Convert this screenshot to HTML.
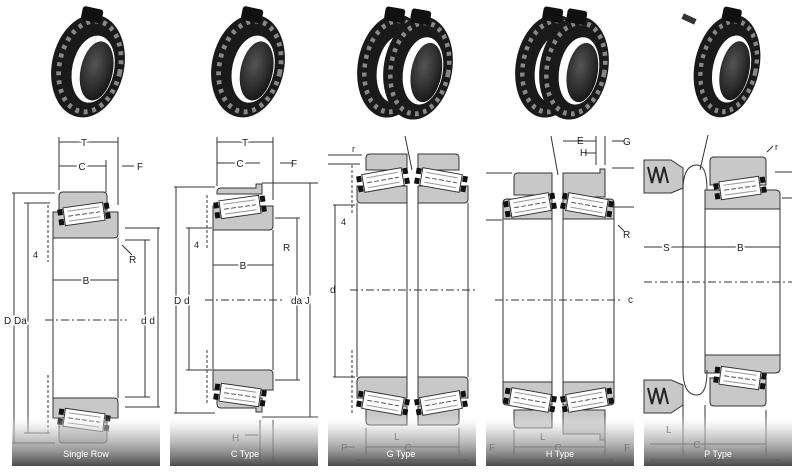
<!DOCTYPE html>
<html><head><meta charset="utf-8"><style>
html,body{margin:0;padding:0;background:#fff;}
svg{display:block;font-family:"Liberation Sans",sans-serif;}
</style></head><body>
<svg width="800" height="473" viewBox="0 0 800 473" xmlns="http://www.w3.org/2000/svg">
<defs>
<linearGradient id="bar" x1="0" y1="0" x2="0" y2="1">
<stop offset="0" stop-color="#fff" stop-opacity="0"/><stop offset="0.3" stop-color="#ccc" stop-opacity="0.6"/><stop offset="1" stop-color="#4a4a4a"/>
</linearGradient>
<radialGradient id="ring" cx="0.4" cy="0.4" r="0.7">
<stop offset="0" stop-color="#555"/><stop offset="1" stop-color="#111"/>
</radialGradient>
<g id="brg">
<ellipse cx="0" cy="0" rx="38" ry="52" fill="#1a1a1a"/>
<ellipse cx="2" cy="0" rx="32" ry="46" fill="none" stroke="#888" stroke-width="5" stroke-dasharray="4 5"/>
<ellipse cx="6" cy="2" rx="22" ry="34" fill="#fff"/>
<ellipse cx="10" cy="3" rx="17" ry="30" fill="url(#ring)"/>
<rect x="-18" y="-58" width="22" height="14" rx="3" fill="#111"/>
</g>
<g id="roll">
<rect x="-20" y="-9" width="40" height="18" fill="#fff" stroke="#333" stroke-width="1"/>
<line x1="-16" y1="0" x2="16" y2="0" stroke="#555" stroke-dasharray="5 2"/>
<line x1="-16" y1="-5" x2="16" y2="-5" stroke="#999"/>
<line x1="-16" y1="5" x2="16" y2="5" stroke="#999"/>
<rect x="-26" y="-8" width="5" height="6" fill="#111"/><rect x="-26" y="2" width="5" height="6" fill="#111"/>
<rect x="21" y="-8" width="5" height="6" fill="#111"/><rect x="21" y="2" width="5" height="6" fill="#111"/>
</g>
</defs>

<!-- top bearing photos -->
<use href="#brg" transform="translate(88,66) rotate(12) scale(0.95,1)"/>
<use href="#brg" transform="translate(248,66) rotate(12) scale(0.95,1)"/>
<use href="#brg" transform="translate(392,66) rotate(10) scale(0.9,1)"/>
<use href="#brg" transform="translate(418,68) rotate(10) scale(0.9,1)"/>
<use href="#brg" transform="translate(550,66) rotate(10) scale(0.9,1)"/>
<use href="#brg" transform="translate(574,68) rotate(10) scale(0.9,1)"/>
<use href="#brg" transform="translate(727,66) rotate(12) scale(0.85,1)"/>
<rect x="682" y="16" width="14" height="6" fill="#333" transform="rotate(25 689 19)"/>

<!-- ========== Single Row ========== -->
<g stroke="#333" stroke-width="1" fill="#c8c8c8">
<path d="M59,196 q0,-4 4,-4 h40 q4,0 4,4 v14 h-48z"/>
<path d="M53,212 h65 v22 q0,4 -4,4 h-61z"/>
<path d="M53,398 h61 q4,0 4,4 v16 h-65z"/>
<path d="M59,422 h48 v17 q0,4 -4,4 h-40 q-4,0 -4,-4z"/>
</g>
<use href="#roll" transform="translate(84,214) rotate(-8)"/>
<use href="#roll" transform="translate(84,420) rotate(8)"/>
<g stroke="#333" stroke-width="1" fill="none">
<line x1="53" y1="238" x2="53" y2="398"/><line x1="118" y1="238" x2="118" y2="398"/>
<line x1="45" y1="320" x2="127" y2="320" stroke-dasharray="8 3 2 3"/>
<line x1="59" y1="137" x2="59" y2="190"/><line x1="118" y1="137" x2="118" y2="205"/>
<line x1="59" y1="142" x2="118" y2="142"/><line x1="59" y1="166" x2="106" y2="166"/>
<line x1="106" y1="160" x2="106" y2="192"/>
<line x1="14" y1="193" x2="14" y2="443"/><line x1="12" y1="193" x2="55" y2="193"/><line x1="12" y1="443" x2="55" y2="443"/>
<line x1="28" y1="203" x2="28" y2="433"/><line x1="24" y1="203" x2="50" y2="203"/><line x1="24" y1="433" x2="50" y2="433"/>
<line x1="145" y1="240" x2="145" y2="397"/><line x1="125" y1="240" x2="150" y2="240"/><line x1="125" y1="397" x2="150" y2="397"/>
<line x1="158" y1="228" x2="158" y2="407"/><line x1="125" y1="228" x2="160" y2="228"/><line x1="125" y1="407" x2="160" y2="407"/>
<line x1="53" y1="280" x2="118" y2="280"/>
<line x1="48" y1="205" x2="48" y2="262" stroke-dasharray="3 2"/>
<line x1="48" y1="375" x2="48" y2="435" stroke-dasharray="3 2"/>
<line x1="122" y1="245" x2="132" y2="255"/>
<line x1="122" y1="166" x2="134" y2="166"/>
</g>
<g font-size="10" fill="#222">
<text x="84" y="146" text-anchor="middle" stroke="#fff" stroke-width="4" style="paint-order:stroke">T</text>
<text x="82" y="170" text-anchor="middle" stroke="#fff" stroke-width="4" style="paint-order:stroke">C</text>
<text x="137" y="170">F</text>
<text x="86" y="284" text-anchor="middle" stroke="#fff" stroke-width="4" style="paint-order:stroke">B</text>
<text x="129" y="263">R</text><text x="33" y="258" font-size="9">4</text>
<text x="4" y="324" stroke="#fff" stroke-width="3" style="paint-order:stroke">D Da</text>
<text x="141" y="324" stroke="#fff" stroke-width="3" style="paint-order:stroke">d d</text>
</g>

<!-- ========== C Type ========== -->
<g stroke="#333" stroke-width="1" fill="#c8c8c8">
<path d="M217,192 q0,-4 4,-4 h35 v-4 h6 v10 h-45z"/>
<path d="M213,206 h60 v20 q0,4 -4,4 h-56z"/>
<path d="M213,370 h56 q4,0 4,4 v16 h-60z"/>
<path d="M217,398 h45 v14 h-6 v-4 h-35 q-4,0 -4,-4z"/>
</g>
<use href="#roll" transform="translate(240,207) rotate(-8)"/>
<use href="#roll" transform="translate(240,395) rotate(8)"/>
<g stroke="#333" stroke-width="1" fill="none">
<line x1="213" y1="230" x2="213" y2="370"/><line x1="273" y1="230" x2="273" y2="370"/>
<line x1="205" y1="300" x2="285" y2="300" stroke-dasharray="8 3 2 3"/>
<line x1="217" y1="137" x2="217" y2="186"/><line x1="273" y1="137" x2="273" y2="200"/>
<line x1="217" y1="142" x2="273" y2="142"/><line x1="217" y1="163" x2="260" y2="163"/>
<line x1="280" y1="163" x2="292" y2="163"/>
<line x1="176" y1="187" x2="176" y2="413"/><line x1="174" y1="187" x2="215" y2="187"/><line x1="174" y1="413" x2="215" y2="413"/>
<line x1="189" y1="228" x2="189" y2="370"/><line x1="186" y1="228" x2="212" y2="228"/><line x1="186" y1="370" x2="212" y2="370"/>
<line x1="297" y1="218" x2="297" y2="380"/><line x1="275" y1="218" x2="300" y2="218"/><line x1="275" y1="380" x2="300" y2="380"/>
<line x1="310" y1="183" x2="310" y2="417"/><line x1="262" y1="183" x2="318" y2="183"/><line x1="262" y1="417" x2="318" y2="417"/>
<line x1="213" y1="265" x2="273" y2="265"/>
<line x1="207" y1="195" x2="207" y2="250" stroke-dasharray="3 2"/>
<line x1="207" y1="350" x2="207" y2="405" stroke-dasharray="3 2"/>
<line x1="260" y1="420" x2="260" y2="466"/><line x1="273" y1="420" x2="273" y2="466"/>
<line x1="245" y1="435" x2="258" y2="435"/>
</g>
<g font-size="10" fill="#222">
<text x="245" y="146" text-anchor="middle" stroke="#fff" stroke-width="4" style="paint-order:stroke">T</text>
<text x="240" y="167" text-anchor="middle" stroke="#fff" stroke-width="4" style="paint-order:stroke">C</text>
<text x="291" y="167">F</text>
<text x="243" y="269" text-anchor="middle" stroke="#fff" stroke-width="4" style="paint-order:stroke">B</text>
<text x="283" y="251">R</text><text x="194" y="248" font-size="9">4</text>
<text x="174" y="304" stroke="#fff" stroke-width="3" style="paint-order:stroke">D d</text>
<text x="291" y="304" stroke="#fff" stroke-width="3" style="paint-order:stroke">da J</text>
<text x="232" y="441">H</text>
</g>

<!-- ========== G Type ========== -->
<g stroke="#333" stroke-width="1" fill="#c8c8c8">
<path d="M366,158 q0,-4 4,-4 h37 v16 h-41z"/><path d="M418,154 h37 q4,0 4,4 v12 h-41z"/>
<path d="M357,186 h50 v17 h-46 q-4,0 -4,-4z"/><path d="M418,186 h50 v13 q0,4 -4,4 h-46z"/>
<path d="M361,377 h46 v21 h-50 v-17 q0,-4 4,-4z"/><path d="M418,377 h46 q4,0 4,4 v17 h-50z"/>
<path d="M366,406 h41 v19 h-37 q-4,0 -4,-4z"/><path d="M418,406 h41 v15 q0,4 -4,4 h-37z"/>
</g>
<use href="#roll" transform="translate(383,180) rotate(-10)"/>
<use href="#roll" transform="translate(441,180) rotate(10)"/>
<use href="#roll" transform="translate(383,403) rotate(10)"/>
<use href="#roll" transform="translate(441,403) rotate(-10)"/>
<g stroke="#333" stroke-width="1" fill="none">
<line x1="357" y1="203" x2="357" y2="377"/><line x1="468" y1="203" x2="468" y2="377"/>
<line x1="407" y1="203" x2="407" y2="377"/><line x1="418" y1="203" x2="418" y2="377"/>
<line x1="350" y1="290" x2="476" y2="290" stroke-dasharray="8 3 2 3"/>
<line x1="328" y1="155" x2="362" y2="155"/><line x1="328" y1="164" x2="360" y2="164"/>
<line x1="335" y1="205" x2="335" y2="377"/><line x1="333" y1="205" x2="355" y2="205"/><line x1="333" y1="377" x2="355" y2="377"/>
<line x1="352" y1="165" x2="352" y2="215" stroke-dasharray="3 2"/><line x1="352" y1="350" x2="352" y2="415" stroke-dasharray="3 2"/>
<line x1="405" y1="136" x2="412" y2="170"/>
<line x1="366" y1="428" x2="366" y2="455"/><line x1="459" y1="428" x2="459" y2="455"/>
<line x1="366" y1="447" x2="459" y2="447"/>
<line x1="357" y1="460" x2="468" y2="460"/>
<line x1="345" y1="447" x2="355" y2="447"/>
</g>
<g font-size="10" fill="#222">
<text x="330" y="293">d</text><text x="341" y="225" font-size="9">4</text>
<text x="352" y="152" font-size="9">r</text>
<text x="394" y="440">L</text>
<text x="408" y="451" text-anchor="middle">C</text>
<text x="341" y="451">F</text>
</g>

<!-- ========== H Type ========== -->
<g stroke="#333" stroke-width="1" fill="#c8c8c8">
<path d="M514,177 q0,-4 4,-4 h34 v22 h-38z"/><path d="M563,173 h37 v-4 h5 v28 h-42z"/>
<path d="M503,203 q0,-4 4,-4 h45 v20 h-49z"/><path d="M563,199 h47 q4,0 4,4 v16 h-51z"/>
<path d="M503,382 h49 v23 h-45 q-4,0 -4,-4z"/><path d="M563,382 h51 v19 q0,4 -4,4 h-47z"/>
<path d="M514,410 h38 v18 h-34 q-4,0 -4,-4z"/><path d="M563,410 h42 v30 h-5 v-6 h-37z"/>
</g>
<use href="#roll" transform="translate(530,205) rotate(-10)"/>
<use href="#roll" transform="translate(587,205) rotate(10)"/>
<use href="#roll" transform="translate(530,400) rotate(10)"/>
<use href="#roll" transform="translate(587,400) rotate(-10)"/>
<g stroke="#333" stroke-width="1" fill="none">
<line x1="503" y1="219" x2="503" y2="382"/><line x1="614" y1="219" x2="614" y2="382"/>
<line x1="552" y1="219" x2="552" y2="382"/><line x1="563" y1="219" x2="563" y2="382"/>
<line x1="495" y1="300" x2="620" y2="300" stroke-dasharray="8 3 2 3"/>
<line x1="486" y1="173" x2="512" y2="173"/><line x1="486" y1="220" x2="502" y2="220"/>
<line x1="612" y1="168" x2="634" y2="168"/><line x1="612" y1="207" x2="634" y2="207"/>
<line x1="551" y1="136" x2="558" y2="175"/>
<line x1="563" y1="141" x2="596" y2="141"/><line x1="596" y1="136" x2="596" y2="165"/>
<line x1="585" y1="153" x2="596" y2="153"/><line x1="605" y1="136" x2="605" y2="165"/>
<line x1="612" y1="141" x2="624" y2="141"/>
<line x1="618" y1="225" x2="624" y2="231"/>
<line x1="514" y1="430" x2="514" y2="455"/><line x1="605" y1="440" x2="605" y2="455"/>
<line x1="514" y1="447" x2="605" y2="447"/>
<line x1="503" y1="460" x2="614" y2="460"/>
</g>
<g font-size="10" fill="#222">
<text x="577" y="144">E</text><text x="580" y="156">H</text><text x="623" y="145">G</text>
<text x="623" y="238">R</text><text x="628" y="303">c</text>
<text x="540" y="440">L</text><text x="558" y="451" text-anchor="middle">C</text>
<text x="489" y="451">F</text><text x="624" y="451">F</text>
</g>

<!-- ========== P Type ========== -->
<g stroke="#333" stroke-width="1" fill="#c8c8c8">
<path d="M644,160 h27 l12,8 v20 l-12,5 h-27z"/>
<path d="M644,380 h27 l12,5 v20 l-12,8 h-27z"/>
<path d="M710,161 q0,-4 4,-4 h48 q4,0 4,4 v24 h-56z"/>
<path d="M705,190 h70 q5,0 5,4 v15 h-75z"/>
<path d="M705,355 h75 v14 q0,4 -5,4 h-70z"/>
<path d="M710,378 h56 v24 q0,4 -4,4 h-48 q-4,0 -4,-4z"/>
</g>
<path d="M648,167 l4,16 l4,-16 l4,16 l4,-16 l4,16" fill="none" stroke="#222" stroke-width="2"/>
<path d="M648,388 l4,16 l4,-16 l4,16 l4,-16 l4,16" fill="none" stroke="#222" stroke-width="2"/>
<use href="#roll" transform="translate(740,188) rotate(-8)"/>
<use href="#roll" transform="translate(740,378) rotate(8)"/>
<g stroke="#333" stroke-width="1" fill="none">
<path d="M697,165 q-14,0 -14,25 v180 q0,25 14,25"/>
<path d="M697,165 q10,0 10,25"/><path d="M697,395 q10,0 10,-25"/>
<line x1="705" y1="209" x2="705" y2="355"/><line x1="780" y1="209" x2="780" y2="355"/>
<line x1="644" y1="282" x2="792" y2="282" stroke-dasharray="8 3 2 3"/>
<line x1="644" y1="247" x2="705" y2="247"/><line x1="705" y1="247" x2="780" y2="247"/>
<line x1="775" y1="172" x2="792" y2="172"/><line x1="782" y1="198" x2="792" y2="198"/>
<line x1="708" y1="135" x2="700" y2="170"/>
<line x1="767" y1="152" x2="773" y2="146"/>
<line x1="683" y1="405" x2="683" y2="455"/><line x1="705" y1="405" x2="705" y2="455"/>
<line x1="766" y1="410" x2="766" y2="455"/>
<line x1="650" y1="444" x2="766" y2="444"/>
<line x1="650" y1="460" x2="780" y2="460"/>
</g>
<g font-size="10" fill="#222">
<text x="663" y="251" stroke="#fff" stroke-width="4" style="paint-order:stroke">S</text>
<text x="737" y="251" stroke="#fff" stroke-width="4" style="paint-order:stroke">B</text>
<text x="666" y="433">L</text><text x="697" y="448" text-anchor="middle">C</text>
<text x="775" y="150" font-size="9">r</text>
</g>

<!-- bottom gradient bars -->
<rect x="12" y="415" width="148" height="51" fill="url(#bar)"/>
<rect x="170" y="415" width="148" height="51" fill="url(#bar)"/>
<rect x="328" y="415" width="148" height="51" fill="url(#bar)"/>
<rect x="486" y="415" width="148" height="51" fill="url(#bar)"/>
<rect x="644" y="415" width="148" height="51" fill="url(#bar)"/>
<g font-size="9" fill="#fff" text-anchor="middle">
<text x="86" y="457">Single Row</text>
<text x="245" y="457">C Type</text>
<text x="401" y="457">G Type</text>
<text x="560" y="457">H Type</text>
<text x="718" y="457">P Type</text>
</g>
</svg>
</body></html>
